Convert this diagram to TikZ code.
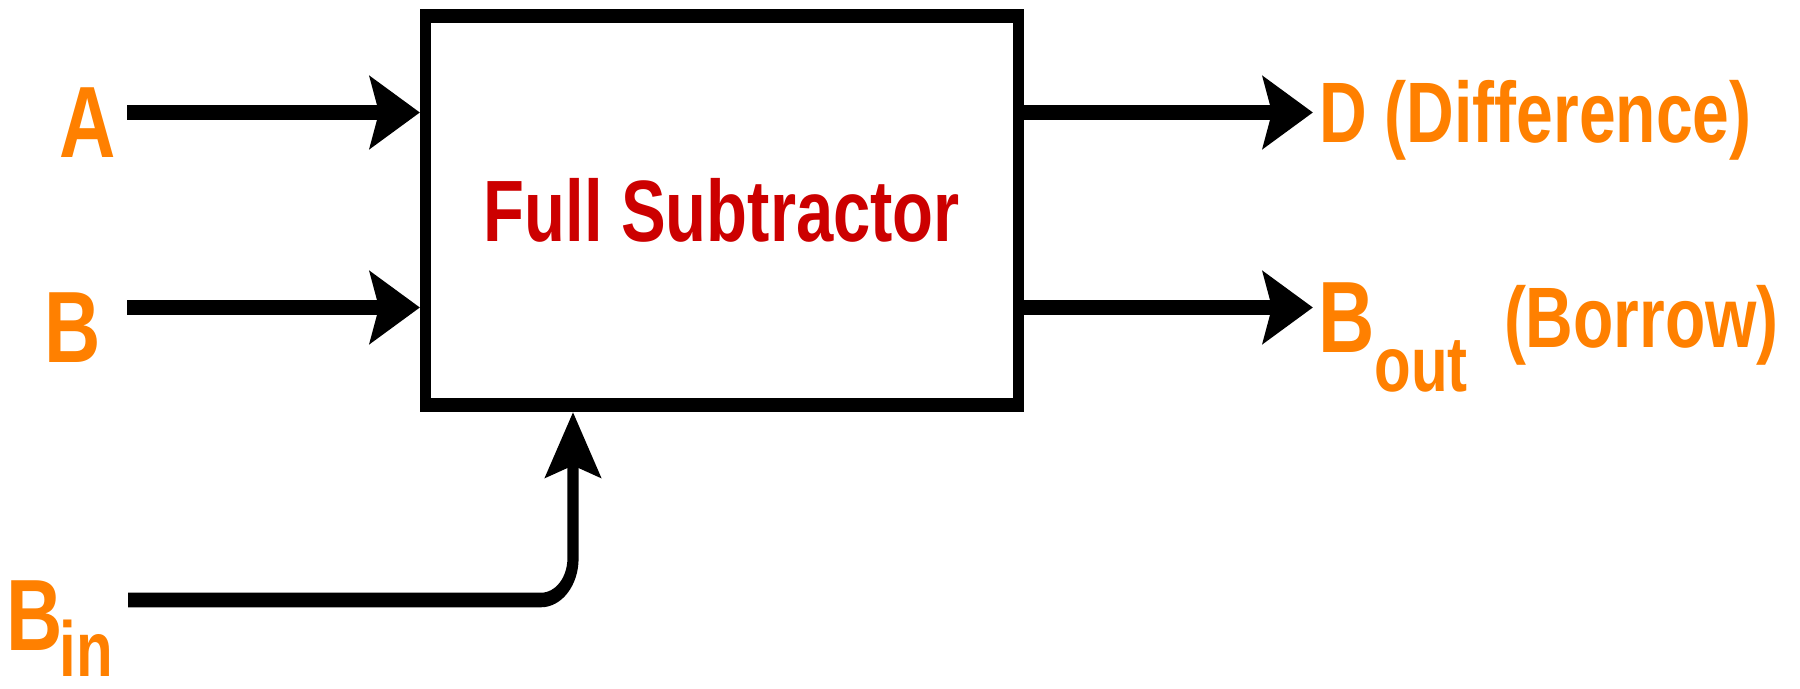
\documentclass[tikz,border=0pt]{standalone}
\usepackage{fontspec}
\setmainfont{Liberation Sans}
\usetikzlibrary{arrows.meta}
\definecolor{labelorange}{HTML}{FF8000}
\definecolor{titlered}{HTML}{CC0000}

\begin{document}
\begin{tikzpicture}[
  wire/.style={line width=5.6pt, -{Stealth[length=25pt,width=27.5pt,inset=4.5pt]}},
  blockbox/.style={draw, line width=5.5pt, minimum width=296.25pt,
    minimum height=149.6pt, inner sep=0pt, text=titlered,
    font=\fontsize{33.5}{40}\selectfont\bfseries},
  lbl/.style={inner sep=0pt, outer sep=0pt, anchor=base west, text=labelorange},
  bigfont/.style={font=\fontsize{39}{44}\selectfont\bfseries},
  midfont/.style={font=\fontsize{33}{40}\selectfont\bfseries},
]
\useasboundingbox (0,0) rectangle (900pt,-344.5pt);
% the whole drawing is stretched vertically by 1.3
\begin{scope}[x=0.5pt, y=-0.384615pt, transform canvas={yscale=1.3}]
  % the subtractor block
  \node[blockbox] (sub) at (721.75,210.5) {Full Subtractor};

  % wire end points
  \coordinate (aIn)     at (127,112.5);
  \coordinate (bIn)     at (127,307.5);
  \coordinate (binIn)   at (128,600);
  \coordinate (binTurn) at (573,600);
  \coordinate (dOut)    at (1313,112.5);
  \coordinate (boutOut) at (1313,307.5);

  % inputs
  \draw[wire] (aIn) -- (aIn -| sub.west);
  \draw[wire] (bIn) -- (bIn -| sub.west);
  \draw[wire, rounded corners=16pt] (binIn) -- (binTurn) -- (binTurn |- sub.south);

  % outputs
  \draw[wire] (sub.east |- dOut) -- (dOut);
  \draw[wire] (sub.east |- boutOut) -- (boutOut);

  % labels
  \node[lbl, bigfont] (lblA) at (59,158) {A};
  \node[lbl, bigfont] (lblB) at (44,363) {B};
  \node[lbl, bigfont] (lblBin) at (6,651)
    {B\kern-1.5pt\raisebox{-10pt}{\fontsize{30}{34}\selectfont in}};
  \node[lbl, midfont] (lblD) at (1319,143) {D (Difference)};
  \node[lbl, bigfont] (lblBout) at (1318,353)
    {B\raisebox{-15pt}{\fontsize{30}{34}\selectfont out}};
  \node[lbl, midfont] (lblBorrow) at (1504,348) {(Borrow)};
\end{scope}
\end{tikzpicture}
\end{document}
